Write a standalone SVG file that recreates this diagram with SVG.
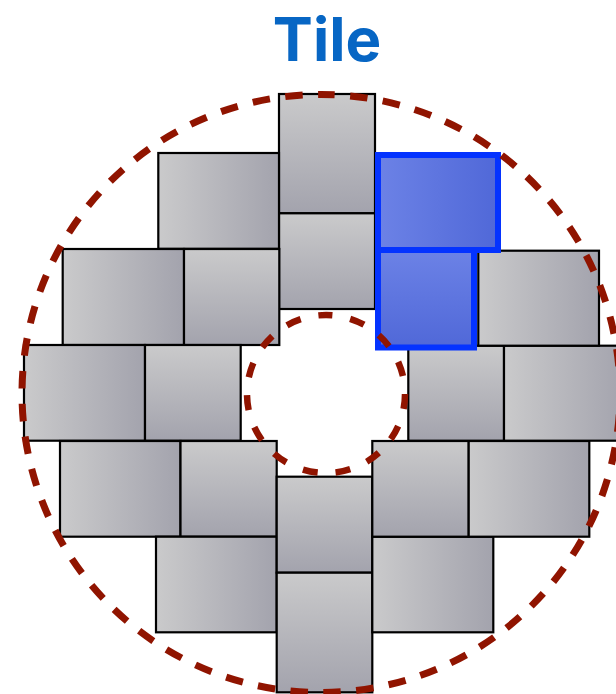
<svg xmlns="http://www.w3.org/2000/svg" width="616" height="694" viewBox="0 0 616 694">
<defs>
<linearGradient id="gh" x1="0" y1="0" x2="1" y2="0"><stop offset="0" stop-color="#CACACB"/><stop offset="1" stop-color="#A3A3AD"/></linearGradient>
<linearGradient id="gv" x1="0" y1="0" x2="0" y2="1"><stop offset="0" stop-color="#CACACB"/><stop offset="1" stop-color="#A3A3AD"/></linearGradient>
<linearGradient id="bh" x1="0" y1="0" x2="1" y2="0"><stop offset="0" stop-color="#6C82E6"/><stop offset="1" stop-color="#5068D8"/></linearGradient>
<linearGradient id="bv" x1="0" y1="0" x2="0" y2="1"><stop offset="0" stop-color="#6C82E6"/><stop offset="1" stop-color="#5068D8"/></linearGradient>
</defs>
<style>
.t{stroke:#000;stroke-width:2.2}
.h{fill:url(#gh)}
.v{fill:url(#gv)}
.b{stroke:#0433FF;stroke-width:6}
.ring{fill:none;stroke:#901400}
.title{font-family:Inter,"Open Sans","Liberation Sans",sans-serif;font-weight:bold;font-size:60px;fill:#0766C4}
</style>
<rect width="616" height="694" fill="#fff"/>
<text class="title" x="327" y="61" text-anchor="middle">Tile</text>
<g id="tiles">
<g id="c-top"><rect class="t v" x="279" y="94" width="96" height="119.3"/></g>
<g id="c-sq"><rect class="t v" x="279" y="213.3" width="96" height="95.7"/></g>
<g id="r1-l"><rect class="t h" x="158.3" y="153" width="120.7" height="95.8"/></g>
<g id="r2-lw"><rect class="t h" x="62.7" y="249" width="121.3" height="96"/></g>
<g id="r2-ls"><rect class="t v" x="184" y="249" width="95.3" height="96"/></g>
<g id="r3-lw"><rect class="t h" x="24" y="345" width="121" height="95.7"/></g>
<g id="r3-ls"><rect class="t v" x="145" y="345" width="95.7" height="95.7"/></g>
<g id="r4-lw"><rect class="t h" x="60" y="441" width="120.5" height="95.7"/></g>
<g id="r4-ls"><rect class="t v" x="180.5" y="441" width="96.2" height="95.7"/></g>
<g id="r5-l"><rect class="t h" x="156" y="536.7" width="120.7" height="95.6"/></g>
<g id="c-bsq"><rect class="t v" x="276.7" y="476.7" width="95.6" height="96"/></g>
<g id="c-bot"><rect class="t v" x="276.7" y="572.7" width="95.6" height="119.6"/></g>
<g id="r5-r"><rect class="t h" x="372.3" y="536.7" width="121" height="95.6"/></g>
<g id="r4-rs"><rect class="t v" x="372.3" y="441" width="96.4" height="95.7"/></g>
<g id="r4-rw"><rect class="t h" x="468.7" y="441" width="120.6" height="95.7"/></g>
<g id="r3-rs"><rect class="t v" x="408.3" y="345.7" width="95.7" height="95"/></g>
<g id="r3-rw"><rect class="t h" x="504" y="345.7" width="121" height="95"/></g>
<g id="r2-rw"><rect class="t h" x="478.3" y="250.7" width="120.7" height="95"/></g>
<g id="blue-wide"><rect class="b" fill="url(#bh)" x="378" y="155" width="120" height="95"/></g>
<g id="blue-sq"><rect class="b" fill="url(#bv)" x="378" y="250" width="96" height="97.5"/></g>
</g>
<g id="rings">
<circle class="ring" cx="321" cy="393.5" r="299" transform="rotate(-90 321 393.5)" stroke-width="7" stroke-dasharray="17.5 15.46" stroke-dashoffset="3.75"/>
<circle class="ring" cx="326" cy="394" r="79" transform="rotate(-90 326 394)" stroke-width="6.5" stroke-dasharray="15 18.09" stroke-dashoffset="8.5"/>
</g>
</svg>
